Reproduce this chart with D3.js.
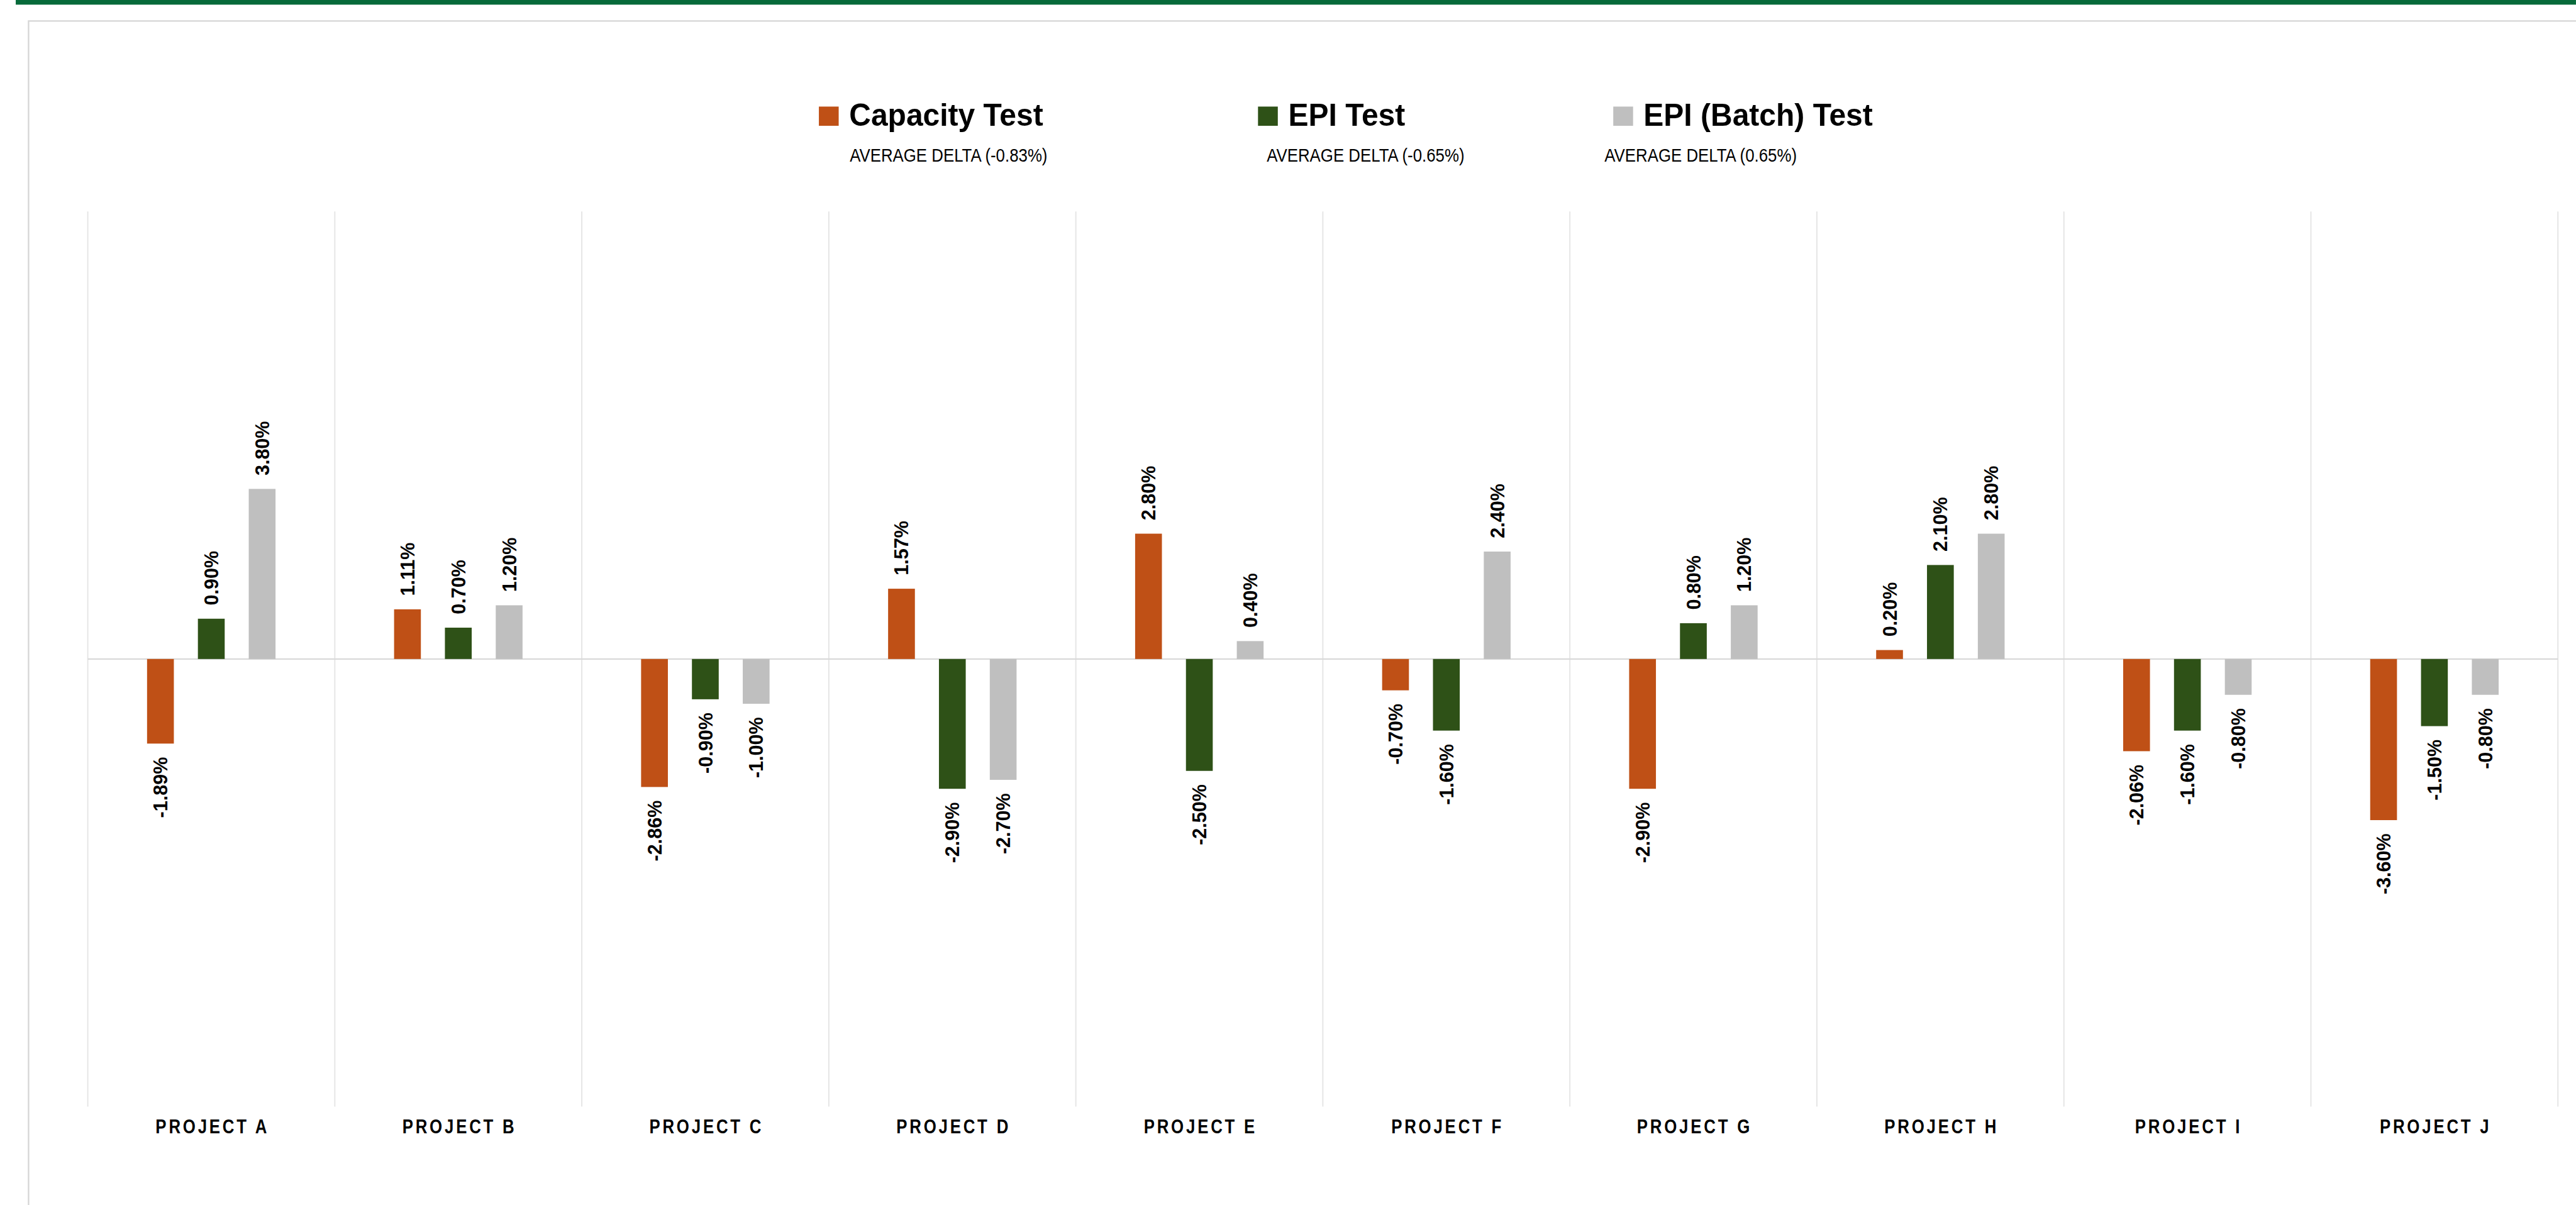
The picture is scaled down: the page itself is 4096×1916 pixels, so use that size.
<!DOCTYPE html>
<html>
<head>
<meta charset="utf-8">
<script src="https://cdn.jsdelivr.net/npm/d3@7"></script>
<style>
  body { margin: 0; background: #fff; }
  svg { display: block; font-family: "Liberation Sans", Arial, sans-serif; }
</style>
</head>
<body>
<svg id="chart"></svg>
<script>
// data (values in %)
const projects = ["PROJECT A", "PROJECT B", "PROJECT C", "PROJECT D", "PROJECT E",
                  "PROJECT F", "PROJECT G", "PROJECT H", "PROJECT I", "PROJECT J"];
const seriesNames = ["Capacity Test", "EPI Test", "EPI (Batch) Test"];
const capacityTest = [-1.89, 1.11, -2.86, 1.57, 2.80, -0.70, -2.90, 0.20, -2.06, -3.60];
const epiTest = [0.90, 0.70, -0.90, -2.90, -2.50, -1.60, 0.80, 2.10, -1.60, -1.50];
const epiBatchTest = [3.80, 1.20, -1.00, -2.70, 0.40, 2.40, 1.20, 2.80, -0.80, -0.80];
const averageLabels = ["AVERAGE DELTA (-0.83%)", "AVERAGE DELTA (-0.65%)", "AVERAGE DELTA (0.65%)"];
const yDomain = [-10, 10];

const colors = ["#bf5016", "#2e5117", "#bfbfbf"];
const allSeries = [capacityTest, epiTest, epiBatchTest];

// drawn in the reference's own pixel space, scaled down by the viewBox
const W = 4423, H = 2069;
const svg = d3.select("#chart")
  .attr("width", 4096)
  .attr("height", 1916)
  .attr("viewBox", `0 0 ${W} ${H}`);

// top green band and card frame
svg.append("rect").attr("x", 27).attr("y", 0).attr("width", W - 27).attr("height", 8).attr("fill", "#076a3a");
svg.append("path")
  .attr("d", `M49,${H} V36 H${W}`)
  .attr("fill", "none").attr("stroke", "#d6d6d6").attr("stroke-width", 2.5);

const plot = { left: 150.7, right: 4392, top: 363, bottom: 1900 };

const x = d3.scaleBand()
  .domain(projects)
  .range([plot.left, plot.right])
  .padding(0);

const xs = d3.scaleBand()
  .domain(seriesNames)
  .range([0, x.bandwidth()])
  .paddingInner(0.473)
  .paddingOuter(1.166);

const y = d3.scaleLinear()
  .domain(yDomain)
  .range([plot.bottom, plot.top]);

// category gridlines
const bounds = projects.map(p => x(p)).concat([x(projects[projects.length - 1]) + x.bandwidth()]);
svg.append("g").selectAll("line")
  .data(bounds)
  .enter()
  .append("line")
  .attr("x1", d => d).attr("x2", d => d)
  .attr("y1", plot.top).attr("y2", plot.bottom)
  .attr("stroke", "#e4e4e4").attr("stroke-width", 2);

// zero line
svg.append("line")
  .attr("x1", plot.left).attr("x2", plot.right)
  .attr("y1", y(0)).attr("y2", y(0))
  .attr("stroke", "#d9d9d9").attr("stroke-width", 2.5);

// bars + labels
const fmt = v => v.toFixed(2) + "%";
seriesNames.forEach((name, si) => {
  const vals = allSeries[si];
  const g = svg.append("g");
  g.selectAll("rect")
    .data(vals)
    .enter()
    .append("rect")
    .attr("x", (d, i) => x(projects[i]) + xs(name))
    .attr("y", d => y(Math.max(0, d)))
    .attr("width", xs.bandwidth())
    .attr("height", d => Math.abs(y(d) - y(0)))
    .attr("fill", colors[si]);

  g.selectAll("text")
    .data(vals)
    .enter()
    .append("text")
    .attr("transform", (d, i) => {
      const cx = x(projects[i]) + xs(name) + xs.bandwidth() / 2;
      const cy = d >= 0 ? y(d) - 23 : y(d) + 23;
      return `translate(${cx},${cy}) rotate(-90)`;
    })
    .attr("text-anchor", d => d >= 0 ? "start" : "end")
    .attr("dy", "0.36em")
    .attr("font-size", 33)
    .attr("font-weight", "bold")
    .attr("fill", "#000")
    .text(fmt);
});

// category labels (narrowed a bit, wide tracking)
svg.append("g").selectAll("text")
  .data(projects)
  .enter()
  .append("text")
  .attr("transform", d => `translate(${x(d) + x.bandwidth() / 2 + 2},1946) scale(0.82,1)`)
  .attr("text-anchor", "middle")
  .attr("font-size", 34)
  .attr("font-weight", "bold")
  .attr("letter-spacing", 5)
  .attr("fill", "#000")
  .text(d => d);

// legend
const legendX = [1406, 2160, 2770];
const avgX = [1459, 2175, 2755];
const legend = svg.append("g");
seriesNames.forEach((name, i) => {
  legend.append("rect")
    .attr("x", legendX[i]).attr("y", 183)
    .attr("width", 34).attr("height", 33)
    .attr("fill", colors[i]);
  legend.append("text")
    .attr("transform", `translate(${legendX[i] + 52},216) scale(0.96,1)`)
    .attr("font-size", 54)
    .attr("font-weight", "bold")
    .attr("fill", "#000")
    .text(name);
  legend.append("text")
    .attr("transform", `translate(${avgX[i]},278) scale(0.9,1)`)
    .attr("font-size", 31)
    .attr("fill", "#000")
    .text(averageLabels[i]);
});
</script>
</body>
</html>
